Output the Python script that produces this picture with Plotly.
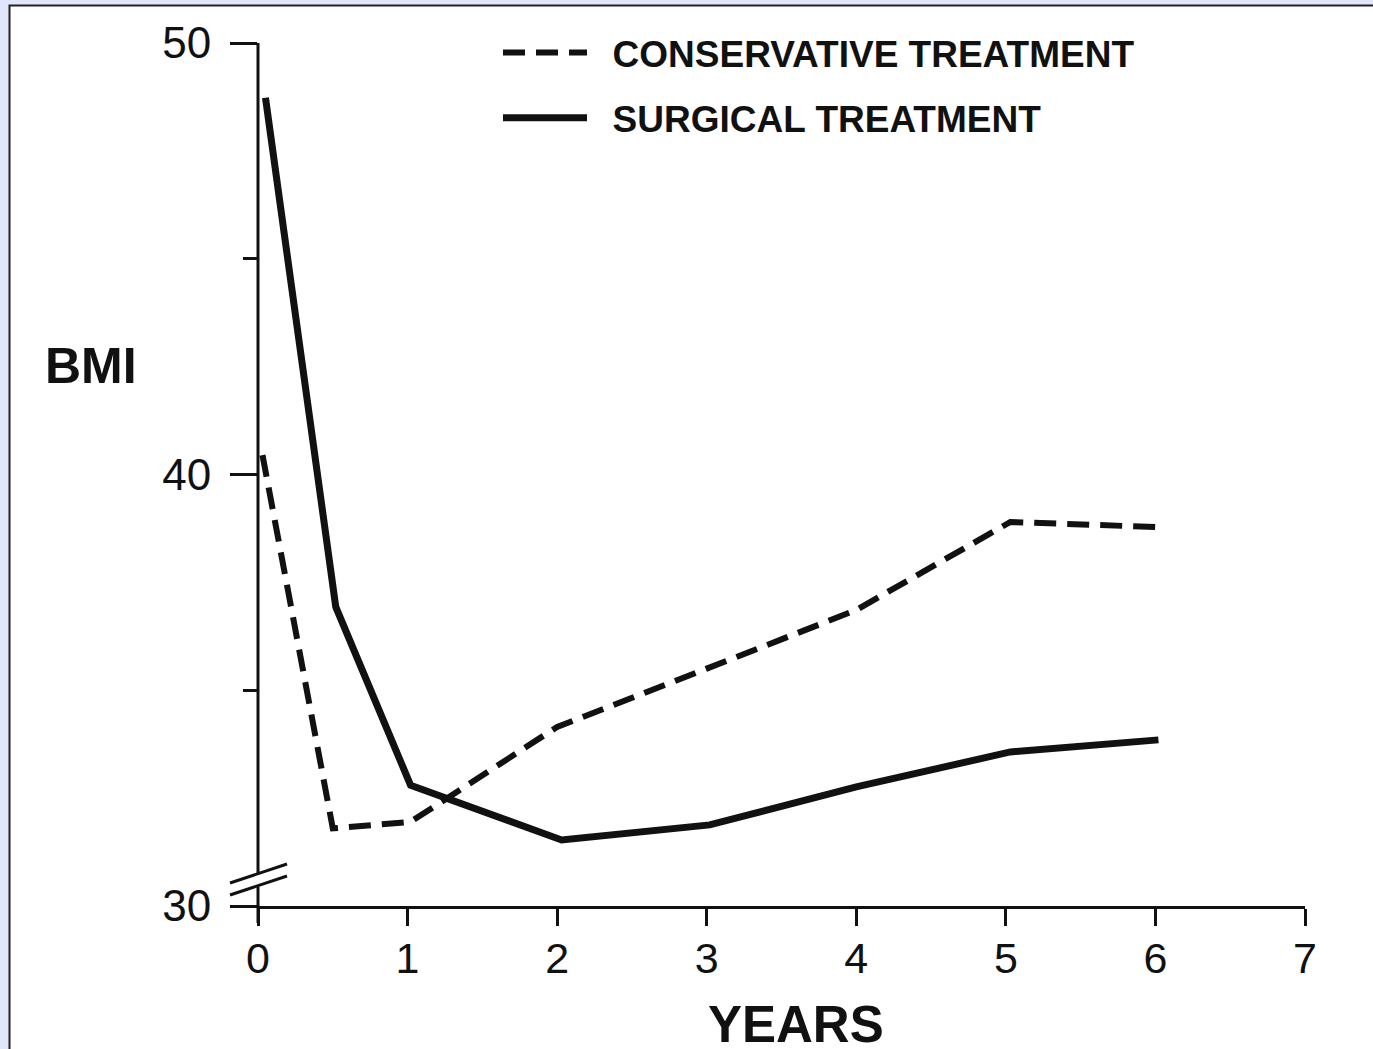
import plotly.graph_objects as go

# Follow-up of body mass index after treatment
years_conservative = [0.03, 0.5, 1.02, 2.0, 3.0, 4.0, 5.03, 6.02]
bmi_conservative = [40.45, 31.8, 31.95, 34.15, 35.5, 36.86, 38.9, 38.78]

years_surgical = [0.05, 0.52, 1.02, 2.03, 3.02, 4.0, 5.03, 6.02]
bmi_surgical = [48.73, 36.93, 32.8, 31.53, 31.88, 32.76, 33.57, 33.85]

x_ticks = [0, 1, 2, 3, 4, 5, 6, 7]
y_major = [30, 40, 50]
y_minor = [35, 45]

FONT = "Liberation Sans, Arial, Helvetica, sans-serif"
INK = "#111111"
GAP = "\u00a0\u00a0"

Y0, Y1 = 30, 50

fig = go.Figure()
fig.add_trace(go.Scatter(
    x=years_conservative, y=bmi_conservative, mode="lines",
    name=GAP + "CONSERVATIVE TREATMENT", legendgroup="c",
    line=dict(color=INK, width=6, dash="22px,11px"), cliponaxis=False,
))
fig.add_trace(go.Scatter(
    x=years_surgical, y=bmi_surgical, mode="lines",
    name=GAP + "SURGICAL TREATMENT", legendgroup="s",
    line=dict(color=INK, width=7), cliponaxis=False,
))

W, H = 1373, 1049
ML, MR, MT, MB = 258, 68, 43, 143
pw, ph = W - ML - MR, H - MT - MB


def px_x(p):
    return (p - ML) / pw


def px_y(p):
    return (H - MB - p) / ph


shapes = [
    # page frame
    dict(type="rect", xref="paper", yref="paper", layer="below",
         x0=px_x(9.5), x1=px_x(W + 20), y0=px_y(H + 20), y1=px_y(5.5),
         fillcolor="white", line=dict(color="#222222", width=2)),
    # vertical axis, broken above the origin
    dict(type="line", xref="paper", yref="paper", x0=0, x1=0,
         y0=1.0, y1=px_y(873), line=dict(color=INK, width=3)),
    dict(type="line", xref="paper", yref="paper", x0=0, x1=0,
         y0=px_y(887), y1=px_y(923), line=dict(color=INK, width=3)),
    # break marks
    dict(type="line", xref="paper", yref="paper", x0=px_x(230), x1=px_x(287),
         y0=px_y(883), y1=px_y(864), line=dict(color=INK, width=3)),
    dict(type="line", xref="paper", yref="paper", x0=px_x(230), x1=px_x(287),
         y0=px_y(895), y1=px_y(876), line=dict(color=INK, width=3)),
]

annotations = [
    dict(text="<b>BMI</b>", xref="paper", yref="paper", x=px_x(91), y=px_y(366),
         xanchor="center", yanchor="middle", showarrow=False,
         font=dict(family=FONT, size=50, color=INK)),
    dict(text="<b>YEARS</b>", xref="paper", yref="paper", x=px_x(796), y=px_y(1024),
         xanchor="center", yanchor="middle", showarrow=False,
         font=dict(family=FONT, size=51, color=INK)),
]

fig.update_layout(
    width=W, height=H, autosize=False,
    margin=dict(l=ML, r=MR, t=MT, b=MB, pad=0),
    paper_bgcolor="#e1e6fa", plot_bgcolor="rgba(0,0,0,0)",
    font=dict(family=FONT, color=INK),
    shapes=shapes, annotations=annotations,
    showlegend=True,
    legend=dict(x=px_x(498), y=px_y(22), xanchor="left", yanchor="top",
                bgcolor="rgba(0,0,0,0)", itemwidth=84, tracegroupgap=14,
                font=dict(family=FONT, size=37, color=INK, weight="bold")),
    xaxis=dict(range=[0, 7], tickvals=x_ticks, ticktext=[str(v) for v in x_ticks],
               ticks="outside", ticklen=17, tickwidth=3, tickcolor=INK,
               ticklabelstandoff=-5,
               showline=True, linewidth=3, linecolor=INK, showgrid=False,
               zeroline=False, tickfont=dict(family=FONT, size=43, color=INK)),
    yaxis=dict(range=[Y0, Y1], tickvals=y_major, ticktext=[str(v) for v in y_major],
               ticks="outside", ticklen=27, tickwidth=3, tickcolor=INK,
               ticklabelstandoff=10,
               minor=dict(tickvals=y_minor, ticks="outside", ticklen=14,
                          tickwidth=3, tickcolor=INK),
               showline=False, showgrid=False, zeroline=False,
               tickfont=dict(family=FONT, size=44, color=INK)),
)

fig.write_html("out.html")
